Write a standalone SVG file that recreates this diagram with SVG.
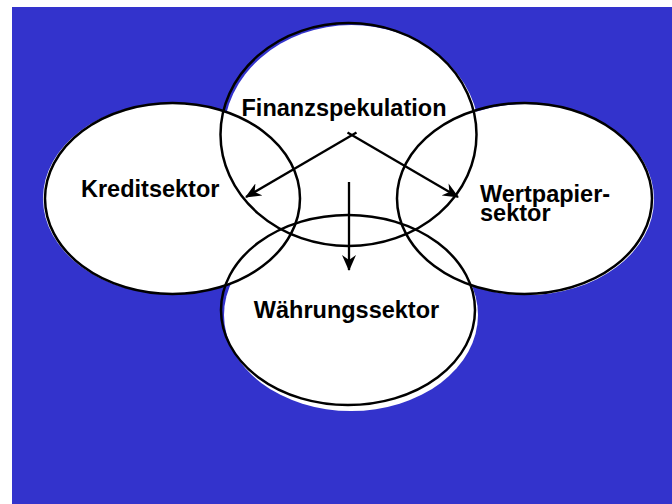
<svg xmlns="http://www.w3.org/2000/svg" width="672" height="504" viewBox="0 0 672 504">
  <style>
    .fill { fill: #ffffff; stroke: none; }
    .ring { fill: none; stroke: #000000; stroke-width: 2.5; }
    .lbl { font-family: "Liberation Sans", Arial, sans-serif; font-weight: bold; font-size: 23.5px; fill: #000000; }
    .conn { stroke: #000000; stroke-width: 2.3; fill: none; marker-end: url(#ah); }
  </style>
  <defs>
    <marker id="ah" markerUnits="userSpaceOnUse" markerWidth="16" markerHeight="14" viewBox="0 0 16 14" refX="15" refY="7" orient="auto">
      <path d="M0,0 L16,7 L0,14 L5,7 z" fill="#000000"/>
    </marker>
  </defs>
  <rect x="0" y="0" width="672" height="504" fill="#ffffff"/>
  <rect x="12" y="7" width="660" height="497" fill="#3333CC"/>

  <g id="backdrops">
    <ellipse class="fill" cx="351.5" cy="136.5" rx="128" ry="111.5"/>
    <ellipse class="fill" cx="170.5" cy="198.5" rx="127.5" ry="95.5"/>
    <ellipse class="fill" cx="526.5" cy="199.5" rx="127.5" ry="95.5"/>
    <ellipse class="fill" cx="351" cy="315" rx="127" ry="96"/>
  </g>

  <g id="node-finanzspekulation">
    <ellipse class="ring" cx="348.5" cy="134.5" rx="128" ry="111.5"/>
    <text class="lbl" x="344" y="116" text-anchor="middle">Finanzspekulation</text>
  </g>
  <g id="node-kreditsektor">
    <ellipse class="ring" cx="172.5" cy="198.5" rx="127.5" ry="95.5"/>
    <text class="lbl" x="81" y="197">Kreditsektor</text>
  </g>
  <g id="node-wertpapiersektor">
    <ellipse class="ring" cx="524.5" cy="198.5" rx="127.5" ry="95.5"/>
    <text class="lbl" x="480" y="202">Wertpapier-</text>
    <text class="lbl" x="480" y="221">sektor</text>
  </g>
  <g id="node-waehrungssektor">
    <ellipse class="ring" cx="348" cy="310" rx="127" ry="95"/>
    <text class="lbl" x="346.5" y="318" text-anchor="middle">Währungssektor</text>
  </g>

  <g id="connectors">
    <line class="conn" x1="356.5" y1="132.5" x2="246" y2="197"/>
    <line class="conn" x1="347.5" y1="132.5" x2="458" y2="197"/>
    <line class="conn" x1="349" y1="182" x2="349" y2="270"/>
  </g>
</svg>
